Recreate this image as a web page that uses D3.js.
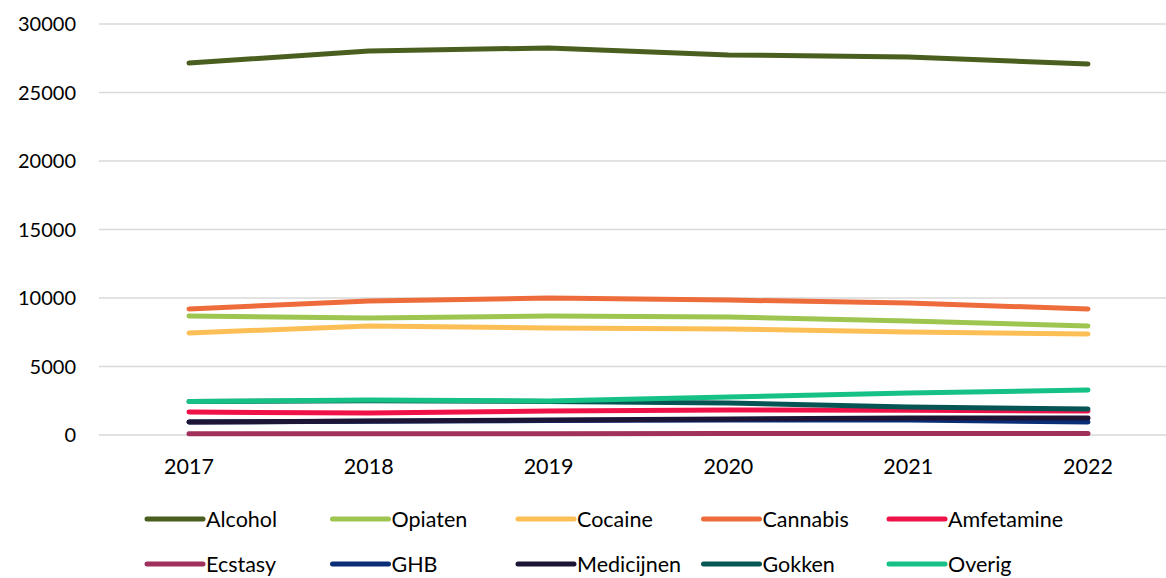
<!DOCTYPE html>
<html><head><meta charset="utf-8">
<script src="https://cdn.jsdelivr.net/npm/d3@7"></script>
<style>body{margin:0;background:#fff}svg{display:block}text{font-family:Lato,"Open Sans",sans-serif;fill:#000}</style>
</head><body><svg id="c" width="1166" height="578"></svg>
<script>
const years = ["2017","2018","2019","2020","2021","2022"];
const yTicks = [0,5000,10000,15000,20000,25000,30000];
const seriesNames = ["Alcohol","Opiaten","Cocaine","Cannabis","Amfetamine","Ecstasy","GHB","Medicijnen","Gokken","Overig"];
const alcohol    = [27150,28030,28250,27740,27590,27080];
const opiaten    = [8690,8540,8690,8610,8320,7960];
const cocaine    = [7450,7960,7810,7740,7520,7370];
const cannabis   = [9200,9780,10000,9850,9630,9200];
const amfetamine = [1680,1600,1750,1820,1800,1750];
const ecstasy    = [90,100,100,110,110,110];
const ghb        = [950,1000,1050,1100,1100,950];
const medicijnen = [950,1020,1090,1170,1240,1240];
const gokken     = [2450,2500,2450,2340,2040,1900];
const overig     = [2450,2550,2480,2770,3070,3280];
const colors = ["#4a5f1f","#9dc54f","#fcbf55","#ee6c3c","#ee1249","#a0305c","#0a2d78","#1c1536","#065555","#16c185"];
const values = [alcohol,opiaten,cocaine,cannabis,amfetamine,ecstasy,ghb,medicijnen,gokken,overig];

const svg = d3.select("#c");
const x = d3.scalePoint().domain(years).range([189,1088]);
const y = d3.scaleLinear().domain([0,30000]).range([435,24]);

svg.append("g").selectAll("line").data(yTicks).join("line")
  .attr("x1",99).attr("x2",1166).attr("y1",d=>y(d)).attr("y2",d=>y(d))
  .attr("stroke","#d9d9d9").attr("stroke-width",1.5);
svg.append("g").selectAll("text").data(yTicks).join("text")
  .attr("x",76).attr("y",d=>y(d)).attr("dy","0.35em").attr("text-anchor","end")
  .attr("font-size",20).text(d=>d);
svg.append("g").selectAll("text").data(years).join("text")
  .attr("x",d=>x(d)).attr("y",474).attr("text-anchor","middle").attr("font-size",21.5).text(d=>d);

const line = d3.line().x((d,i)=>x(years[i])).y(d=>y(d));
svg.append("g").selectAll("path").data(values).join("path")
  .attr("d",d=>line(d)).attr("fill","none").attr("stroke",(d,i)=>colors[i])
  .attr("stroke-width",5).attr("stroke-linecap","round").attr("stroke-linejoin","round");

const lg = svg.append("g").selectAll("g").data(seriesNames).join("g")
  .attr("transform",(d,i)=>`translate(${147+(i%5)*185.5},${i<5?519:564})`);
lg.append("line").attr("x1",0).attr("x2",56).attr("stroke",(d,i)=>colors[i])
  .attr("stroke-width",5).attr("stroke-linecap","round");
lg.append("text").attr("x",59).attr("dy","0.35em").attr("font-size",21.5).text(d=>d);
</script></body></html>
